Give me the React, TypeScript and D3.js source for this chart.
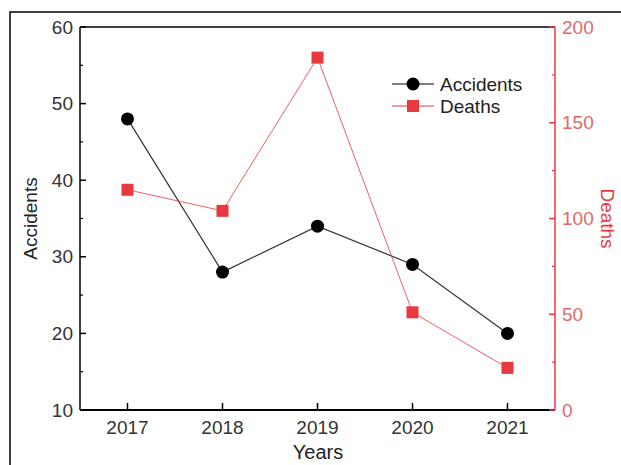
import React from "react";
import * as d3 from "d3";

const years = [2017, 2018, 2019, 2020, 2021];
const accidents = [48, 28, 34, 29, 20];
const deaths = [115, 104, 184, 51, 22];
const leftTicks = [10, 20, 30, 40, 50, 60];
const rightTicks = [0, 50, 100, 150, 200];

const RED = "#e8393f";
const RED_TXT = "#e06a6a";
const FONT = "Liberation Sans, Arial, sans-serif";

export default function App() {
  const W = 621, H = 465;
  const left = 80, right = 555, top = 27, bottom = 410;
  const x = d3.scaleLinear().domain([2016.5, 2021.5]).range([left, right]);
  const yL = d3.scaleLinear().domain([10, 60]).range([bottom, top]);
  const yR = d3.scaleLinear().domain([0, 200]).range([bottom, top]);

  const lineA = d3.line<number>().x((_, i) => x(years[i])).y((d) => yL(d));
  const lineD = d3.line<number>().x((_, i) => x(years[i])).y((d) => yR(d));

  const minorL = d3.range(15, 60, 10);
  const minorR = d3.range(25, 200, 50);

  return (
    <svg width={W} height={H} style={{ position: "absolute", left: 0, top: 0, background: "#fff" }} fontFamily={FONT}>
      <rect x={10} y={12} width={W + 20} height={H + 20} fill="#fff" stroke="#000" strokeWidth={1.5} />
      {/* plot frame */}
      <line x1={left} x2={right} y1={top} y2={top} stroke="#000" strokeWidth={1.5} />
      <line x1={left} x2={right} y1={bottom} y2={bottom} stroke="#000" strokeWidth={2} />
      <line x1={left} x2={left} y1={top} y2={bottom} stroke="#000" strokeWidth={1.5} />
      <line x1={right} x2={right} y1={top} y2={bottom} stroke={RED} strokeWidth={1.5} />
      {/* left ticks */}
      {leftTicks.map((t) => (
        <g key={"l" + t}>
          <line x1={left} x2={left + 6} y1={yL(t)} y2={yL(t)} stroke="#000" strokeWidth={1.5} />
          <text x={left - 7} y={yL(t)} dy="0.35em" textAnchor="end" fontSize={19} fill="#333">{t}</text>
        </g>
      ))}
      {minorL.map((t) => (
        <line key={"ml" + t} x1={left} x2={left + 3} y1={yL(t)} y2={yL(t)} stroke="#000" strokeWidth={1.2} />
      ))}
      {/* right ticks */}
      {rightTicks.map((t) => (
        <g key={"r" + t}>
          <line x1={right} x2={right - 6} y1={yR(t)} y2={yR(t)} stroke={RED} strokeWidth={1.5} />
          <text x={right + 7} y={yR(t)} dy="0.35em" textAnchor="start" fontSize={19} fill={RED_TXT}>{t}</text>
        </g>
      ))}
      {minorR.map((t) => (
        <line key={"mr" + t} x1={right} x2={right - 3} y1={yR(t)} y2={yR(t)} stroke={RED} strokeWidth={1.2} />
      ))}
      {/* x ticks */}
      {years.map((yv) => (
        <g key={"x" + yv}>
          <line x1={x(yv)} x2={x(yv)} y1={bottom} y2={bottom - 7} stroke="#000" strokeWidth={1.5} />
          <text x={x(yv)} y={bottom + 24} textAnchor="middle" fontSize={19} fill="#333">{yv}</text>
        </g>
      ))}
      {/* axis titles */}
      <text x={318} y={459} textAnchor="middle" fontSize={20} fill="#222">Years</text>
      <text transform={`translate(37,${(top + bottom) / 2}) rotate(-90)`} textAnchor="middle" fontSize={19} fill="#222">Accidents</text>
      <text transform={`translate(601,${(top + bottom) / 2}) rotate(90)`} textAnchor="middle" fontSize={19} fill={RED}>Deaths</text>
      {/* series */}
      <path d={lineA(accidents) || ""} fill="none" stroke="#333" strokeWidth={1.2} />
      <path d={lineD(deaths) || ""} fill="none" stroke={RED} strokeWidth={1} strokeOpacity={0.8} />
      {accidents.map((v, i) => (
        <circle key={"a" + i} cx={x(years[i])} cy={yL(v)} r={6.5} fill="#000" />
      ))}
      {deaths.map((v, i) => (
        <rect key={"d" + i} x={x(years[i]) - 6} y={yR(v) - 6} width={12} height={12} fill={RED} />
      ))}
      {/* legend */}
      <g>
        <line x1={392} x2={434} y1={84} y2={84} stroke="#000" strokeWidth={1.2} />
        <circle cx={413} cy={84} r={6.5} fill="#000" />
        <text x={440} y={84} dy="0.35em" fontSize={19} fill="#222">Accidents</text>
        <line x1={392} x2={434} y1={106} y2={106} stroke={RED} strokeWidth={1} />
        <rect x={407} y={100} width={12} height={12} fill={RED} />
        <text x={440} y={106} dy="0.35em" fontSize={19} fill="#222">Deaths</text>
      </g>
    </svg>
  );
}
